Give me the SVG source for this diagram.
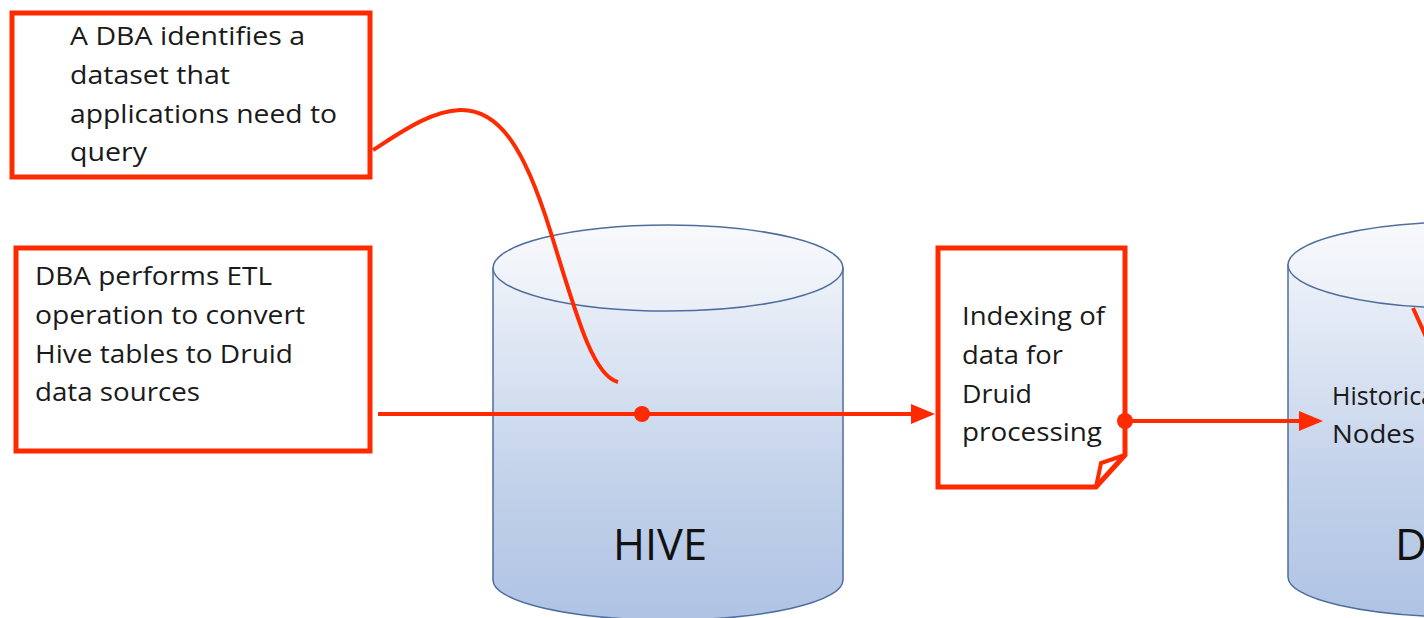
<svg xmlns="http://www.w3.org/2000/svg" width="1424" height="618" viewBox="0 0 1424 618">
<defs>
<linearGradient id="body" x1="0" y1="0" x2="0" y2="1">
<stop offset="0" stop-color="#EEF2F9"/>
<stop offset="0.6" stop-color="#C3D2EA"/>
<stop offset="1" stop-color="#AFC3E4"/>
</linearGradient>
<linearGradient id="top" x1="0" y1="0" x2="0" y2="1">
<stop offset="0" stop-color="#F8F9FC"/>
<stop offset="1" stop-color="#EAEFF7"/>
</linearGradient>
<marker id="arr" markerWidth="6" markerHeight="5" refX="5" refY="2.5" orient="auto" markerUnits="strokeWidth">
<path d="M0,0 L6,2.5 L0,5 Z" fill="#FF2A00"/>
</marker>
<clipPath id="page"><rect x="0" y="0" width="1424" height="618"/></clipPath>
</defs>
<style>
.box{fill:#fff;stroke:#FF2A00;stroke-width:5}
.t{font-family:"Open Sans","Liberation Sans",sans-serif;font-size:25px;fill:#1a1a1a}
.big{font-family:"Open Sans","Liberation Sans",sans-serif;font-size:44px;fill:#111}
.cyl{fill:url(#body);stroke:#4F6D9C;stroke-width:1.5}
.cyltop{fill:url(#top);stroke:#4F6D9C;stroke-width:1.5}
.con{fill:none;stroke:#FF2A00;stroke-width:4}
.dot{fill:#FF2A00}
</style>
<g clip-path="url(#page)">
<g id="hive">
<path class="cyl" d="M493,268 V580 A175,40 0 0 0 843,580 V268 Z"/>
<ellipse class="cyltop" cx="668" cy="268" rx="175" ry="43"/>
<text class="big" x="613" y="560" textLength="94" lengthAdjust="spacingAndGlyphs">HIVE</text>
</g>
<g id="druid">
<path class="cyl" d="M1288,265 V577 A175,40 0 0 0 1638,577 V265 Z"/>
<ellipse class="cyltop" cx="1463" cy="265" rx="175" ry="43"/>
<text class="t" x="1332" y="405">Historical</text>
<text class="t" x="1332" y="443" textLength="83" lengthAdjust="spacingAndGlyphs">Nodes</text>
<text class="big" x="1395" y="560">DRUID</text>
</g>
<g id="box1">
<rect class="box" x="12" y="13" width="358" height="164"/>
<text class="t" x="70" y="45" textLength="235" lengthAdjust="spacingAndGlyphs">A DBA identifies a</text>
<text class="t" x="70" y="84" textLength="160" lengthAdjust="spacingAndGlyphs">dataset that</text>
<text class="t" x="70" y="123" textLength="267" lengthAdjust="spacingAndGlyphs">applications need to</text>
<text class="t" x="70" y="161" textLength="77" lengthAdjust="spacingAndGlyphs">query</text>
</g>
<g id="box2">
<rect class="box" x="16" y="248" width="354" height="203"/>
<text class="t" x="35" y="285" textLength="237" lengthAdjust="spacingAndGlyphs">DBA performs ETL</text>
<text class="t" x="35" y="324" textLength="270" lengthAdjust="spacingAndGlyphs">operation to convert</text>
<text class="t" x="35" y="363" textLength="258" lengthAdjust="spacingAndGlyphs">Hive tables to Druid</text>
<text class="t" x="35" y="401" textLength="165" lengthAdjust="spacingAndGlyphs">data sources</text>
</g>
<g id="indexing">
<path class="box" d="M938,248 H1125 V455 L1096,487 H938 Z"/>
<path fill="none" stroke="#FF2A00" stroke-width="4" d="M1125,455 L1101,463 L1096,487"/>
<text class="t" x="962" y="325" textLength="143" lengthAdjust="spacingAndGlyphs">Indexing of</text>
<text class="t" x="962" y="364" textLength="101" lengthAdjust="spacingAndGlyphs">data for</text>
<text class="t" x="962" y="403" textLength="70" lengthAdjust="spacingAndGlyphs">Druid</text>
<text class="t" x="962" y="441" textLength="140" lengthAdjust="spacingAndGlyphs">processing</text>
</g>
<g id="connectors">
<path class="con" d="M373,150 C400,133 430,111 460,110 C500,109 525,150 550,230 C575,310 592,376 618,382"/>
<path class="con" d="M378,414 H931" marker-end="url(#arr)"/>
<circle class="dot" cx="642" cy="414" r="8"/>
<path class="con" d="M1125,421 H1319" marker-end="url(#arr)"/>
<circle class="dot" cx="1125" cy="421" r="8"/>
<path class="con" d="M1413,308 L1432,350"/>
</g>
</g>
</svg>
